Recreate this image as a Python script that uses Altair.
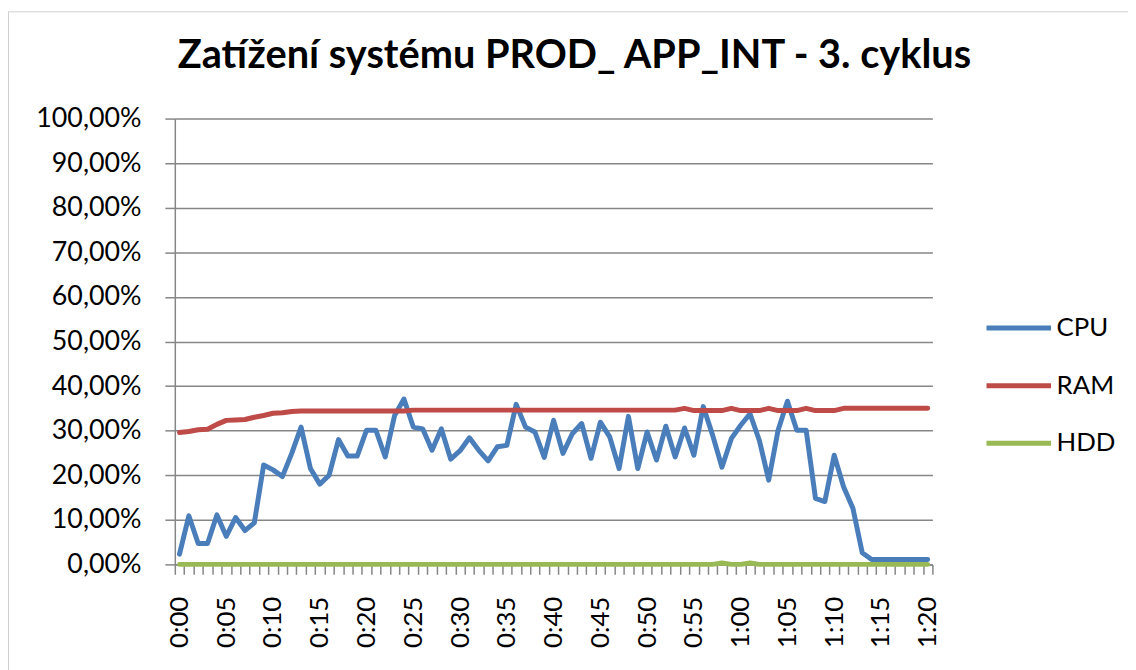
import altair as alt
import pandas as pd

# categories (one sample per minute, 0:00 .. 1:20)
minutes = [f"{m // 60}:{m % 60:02d}" for m in range(81)]

# values in percent
cpu = [2.3, 10.9, 4.7, 4.7, 11.1, 6.3, 10.5, 7.6, 9.3, 22.3,
       21.2, 19.7, 24.9, 30.8, 21.5, 18.0, 20.0, 28.0, 24.3, 24.3,
       30.1, 30.1, 24.1, 33.4, 37.1, 30.8, 30.4, 25.6, 30.4, 23.6,
       25.5, 28.4, 25.6, 23.2, 26.4, 26.7, 35.9, 30.8, 29.7, 24.0,
       32.3, 24.9, 29.3, 31.6, 23.8, 31.9, 28.6, 21.5, 33.2, 21.5,
       29.7, 23.4, 31.0, 24.1, 30.6, 24.5, 35.4, 29.0, 21.8, 28.2,
       31.2, 33.8, 27.8, 18.9, 30.1, 36.6, 30.1, 30.1, 14.8, 14.1,
       24.5, 17.4, 12.6, 2.6, 1.1, 1.1, 1.1, 1.1, 1.1, 1.1,
       1.1]
ram = [29.6, 29.8, 30.2, 30.3, 31.4, 32.3, 32.4, 32.5, 33.0, 33.4,
       33.9, 34.0, 34.3, 34.4, 34.4, 34.4, 34.4, 34.4, 34.4, 34.4,
       34.4, 34.4, 34.4, 34.4, 34.4, 34.6, 34.6, 34.6, 34.6, 34.6,
       34.6, 34.6, 34.6, 34.6, 34.6, 34.6, 34.6, 34.6, 34.6, 34.6,
       34.6, 34.6, 34.6, 34.6, 34.6, 34.6, 34.6, 34.6, 34.6, 34.6,
       34.6, 34.6, 34.6, 34.6, 35.0, 34.5, 34.5, 34.5, 34.5, 35.0,
       34.5, 34.5, 34.5, 35.0, 34.5, 34.5, 34.5, 35.0, 34.5, 34.5,
       34.5, 35.0, 35.0, 35.0, 35.0, 35.0, 35.0, 35.0, 35.0, 35.0,
       35.0]
hdd = [0.0, 0.0, 0.0, 0.0, 0.0, 0.0, 0.0, 0.0, 0.0, 0.0,
       0.0, 0.0, 0.0, 0.0, 0.0, 0.0, 0.0, 0.0, 0.0, 0.0,
       0.0, 0.0, 0.0, 0.0, 0.0, 0.0, 0.0, 0.0, 0.0, 0.0,
       0.0, 0.0, 0.0, 0.0, 0.0, 0.0, 0.0, 0.0, 0.0, 0.0,
       0.0, 0.0, 0.0, 0.0, 0.0, 0.0, 0.0, 0.0, 0.0, 0.0,
       0.0, 0.0, 0.0, 0.0, 0.0, 0.0, 0.0, 0.0, 0.3, 0.0,
       0.0, 0.3, 0.0, 0.0, 0.0, 0.0, 0.0, 0.0, 0.0, 0.0,
       0.0, 0.0, 0.0, 0.0, 0.0, 0.0, 0.0, 0.0, 0.0, 0.0,
       0.0]

series = ["CPU", "RAM", "HDD"]
colors = ["#4A7EBB", "#BE4B48", "#98B954"]
y_ticks = [0.0, 0.1, 0.2, 0.3, 0.4, 0.5, 0.6, 0.7, 0.8, 0.9, 1.0]
title_text = "Zatížení systému PROD_ APP_INT - 3. cyklus"

rows = []
for name, vals in zip(series, [cpu, ram, hdd]):
    for t, v in zip(minutes, vals):
        rows.append({"t": t, "serie": name, "v": v / 100.0})
df = pd.DataFrame(rows)

FONT = "Lato"
GRID = "#868686"

lines = alt.Chart(df).mark_line(
    strokeWidth=5, strokeJoin="round", strokeCap="round"
).encode(
    x=alt.X(
        "t:O",
        sort=minutes,
        scale=alt.Scale(type="band", paddingInner=0, paddingOuter=0),
        axis=alt.Axis(
            title=None,
            labelAngle=270,
            labelAlign="right",
            labelBaseline="middle",
            labelExpr="toNumber(split(datum.value, ':')[1]) % 5 == 0 ? datum.value : ''",
            labelOverlap=False,
            tickBand="extent",
            tickSize=10,
            tickColor=GRID,
            tickWidth=1.5,
            domainColor=GRID,
            domainWidth=1.5,
            labelPadding=22,
            labelFont=FONT,
            labelFontSize=26,
            labelColor="#000000",
            grid=False,
        ),
    ),
    y=alt.Y(
        "v:Q",
        scale=alt.Scale(domain=[0, 1], nice=False),
        axis=alt.Axis(
            title=None,
            values=y_ticks,
            labelExpr="replace(format(datum.value, '.2%'), '.', ',')",
            tickSize=10,
            tickColor=GRID,
            tickWidth=1.5,
            domainColor=GRID,
            domainWidth=1.5,
            gridColor=GRID,
            gridWidth=1.5,
            labelPadding=24,
            labelFont=FONT,
            labelFontSize=27,
            labelColor="#000000",
        ),
    ),
    color=alt.Color(
        "serie:N",
        sort=series,
        scale=alt.Scale(domain=series, range=colors),
        legend=alt.Legend(
            title=None,
            orient="none",
            legendX=815,
            legendY=176,
            padding=0,
            symbolType="stroke",
            symbolSize=4225,
            symbolStrokeWidth=5,
            labelFont=FONT,
            labelFontSize=26,
            labelColor="#000000",
            labelOffset=3,
            rowPadding=10,
        ),
    ),
)

frame_data = pd.DataFrame({"k": [0]})
frame_top = alt.Chart(frame_data).mark_rule(color="#D0D0D0", strokeWidth=1).encode(
    x=alt.value(-167), x2=alt.value(960), y=alt.value(-107.5)
)
frame_left = alt.Chart(frame_data).mark_rule(color="#D0D0D0", strokeWidth=1).encode(
    x=alt.value(-167.5), y=alt.value(-108), y2=alt.value(560)
)

chart = alt.layer(frame_top, frame_left, lines).properties(
    width=763,
    height=449,
    autosize=alt.AutoSizeParams(type="none"),
    padding={"left": 168, "top": 109, "right": 197, "bottom": 104},
    title=alt.TitleParams(
        text=title_text,
        font=FONT,
        fontSize=40,
        fontWeight="bold",
        color="#000000",
        anchor="middle",
        baseline="alphabetic",
        dx=21,
        offset=-98,
    ),
).configure_view(strokeWidth=0)

chart.save("out.html", embed_options={"renderer": "svg", "actions": False})
